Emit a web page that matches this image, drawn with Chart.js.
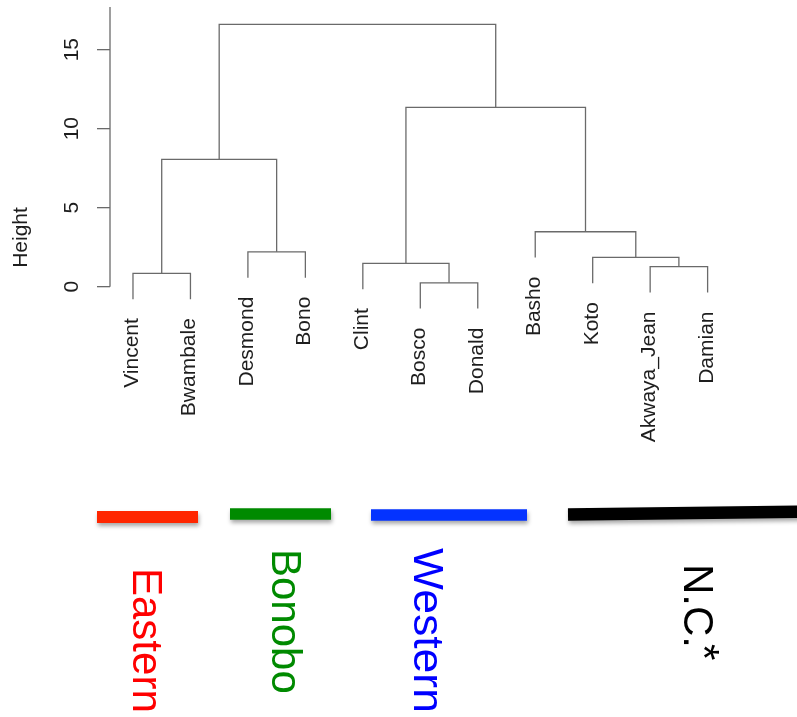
<!DOCTYPE html>
<html>
<head>
<meta charset="utf-8">
<script src="https://cdn.jsdelivr.net/npm/chart.js"></script>
<style>
  body { margin: 0; background: #fff; }
  canvas { display: block; }
</style>
</head>
<body>
<canvas id="charts" width="797" height="717"></canvas>
<script>
// Leaves in the order they appear under the tree
const leafNames = ['Vincent', 'Bwambale', 'Desmond', 'Bono', 'Clint', 'Bosco', 'Donald', 'Basho', 'Koto', 'Akwaya_Jean', 'Damian']

// hclust style merges: negative = leaf number, positive = earlier merge
const mergeLeft = [-6, -1, -10, -5, -9, -3, -8, 2, 4, 8]
const mergeRight = [-7, -2, -11, 1, 3, -4, 5, 6, 7, 9]
const mergeHeight = [0.25, 0.85, 1.27, 1.48, 1.86, 2.21, 3.48, 8.06, 11.35, 16.6]

const yTicks = [0, 5, 10, 15]

// groups marked under the tree
const groupNames = ['Eastern', 'Bonobo', 'Western', 'N.C.']
const groupTextColors = ['#ff0000', '#008a00', '#0000ff', '#000000']
const groupBarColors = ['#ff2600', '#008a00', '#0433ff', '#000000']

const FONT = '"Liberation Sans", Arial, Helvetica, sans-serif'
const LINE = '#6a6a6a'

//----------------------
// build the tree segments from the merges
const hang = 0.1 * (Math.max(...mergeHeight) - Math.min(...mergeHeight))
const nodeX = []
const leafTop = []

function xOf(ref) { return ref < 0 ? -ref : nodeX[ref - 1] }
function topOf(ref, h) { return ref < 0 ? h - hang : mergeHeight[ref - 1] }

const datasets = []
for (let i = 0; i < mergeHeight.length; i++) {
    const a = mergeLeft[i], b = mergeRight[i], h = mergeHeight[i]
    nodeX[i] = (xOf(a) + xOf(b)) / 2
    if (a < 0) leafTop[-a - 1] = h - hang
    if (b < 0) leafTop[-b - 1] = h - hang
    datasets.push({
        data: [
            {x: xOf(a), y: topOf(a, h)},
            {x: xOf(a), y: h},
            {x: xOf(b), y: h},
            {x: xOf(b), y: topOf(b, h)}
        ],
        showLine: true,
        borderColor: LINE,
        borderWidth: 1.3,
        pointRadius: 0,
        fill: false,
        tension: 0
    })
}

// axis line, leaf labels and the coloured group marks
const extras = {
    id: 'extras',
    afterDraw(chart) {
        const ctx = chart.ctx
        const xs = chart.scales.x, ys = chart.scales.y
        const area = chart.chartArea

        // y axis line
        ctx.save()
        ctx.strokeStyle = LINE
        ctx.lineWidth = 1.3
        ctx.beginPath()
        ctx.moveTo(area.left, ys.getPixelForValue(0))
        ctx.lineTo(area.left, area.top)
        ctx.stroke()
        ctx.restore()

        // leaf labels, reading upwards
        ctx.save()
        ctx.fillStyle = '#1e1e1e'
        ctx.font = '21px ' + FONT
        ctx.textAlign = 'right'
        ctx.textBaseline = 'alphabetic'
        leafNames.forEach((name, i) => {
            const px = xs.getPixelForValue(i + 1)
            const py = ys.getPixelForValue(leafTop[i])
            ctx.save()
            ctx.translate(px + 5, py + 19)
            ctx.rotate(-Math.PI / 2)
            ctx.fillText(name, 0, 0)
            ctx.restore()
        })
        ctx.restore()

        // group bars
        const bars = [
            [97, 517, 198, 517, 12],
            [230, 514, 331, 514, 11.7],
            [371, 515, 527, 515, 11.7],
            [568, 514.5, 800, 511.8, 12.5]
        ]
        bars.forEach((b, i) => {
            ctx.save()
            ctx.shadowColor = 'rgba(0,0,0,0.35)'
            ctx.shadowBlur = 4
            ctx.shadowOffsetX = 1
            ctx.shadowOffsetY = 3
            ctx.strokeStyle = groupBarColors[i]
            ctx.lineWidth = b[4]
            ctx.lineCap = 'butt'
            ctx.beginPath()
            ctx.moveTo(b[0], b[1])
            ctx.lineTo(b[2], b[3])
            ctx.stroke()
            ctx.restore()
        })

        // group names, reading downwards
        const spots = [[133, 568], [272, 549], [413.5, 548], [683.5, 564]]
        ctx.save()
        ctx.font = '42px ' + FONT
        ctx.textAlign = 'left'
        ctx.textBaseline = 'alphabetic'
        groupNames.forEach((name, i) => {
            ctx.save()
            ctx.fillStyle = groupTextColors[i]
            ctx.translate(spots[i][0], spots[i][1])
            ctx.rotate(Math.PI / 2)
            // Western is set a little wider in the original
            if (name === 'Western') ctx.scale(1.06, 1)
            ctx.fillText(name, 0, 0)
            ctx.restore()
        })
        // superscript star after N.C.
        ctx.fillStyle = '#000'
        ctx.translate(690, 644)
        ctx.rotate(Math.PI / 2)
        ctx.fillText('*', 0, 0)
        ctx.restore()
    }
}

// Create Chart.js dendrogram
var ctx = document.getElementById('charts').getContext('2d');

var chart = new Chart(ctx, {
    type: 'scatter',
    data: { datasets: datasets },
    options: {
        responsive: false,
        animation: false,
        layout: {
            padding: {left: 0, top: 7, right: 66.4, bottom: 249}
        },
        plugins: {
            legend: { display: false },
            tooltip: { enabled: false }
        },
        scales: {
            x: {
                type: 'linear',
                min: 0.6,
                max: 11.4,
                display: false
            },
            y: {
                type: 'linear',
                min: -11.47,
                max: 17.7,
                afterBuildTicks: s => { s.ticks = yTicks.map(v => ({value: v})) },
                afterFit: s => {
                    s.width = 110
                    s.paddingTop = 0
                    s.paddingBottom = 0
                },
                border: { display: false },
                grid: {
                    drawOnChartArea: false,
                    drawTicks: true,
                    tickLength: 13,
                    color: LINE,
                    lineWidth: 1.3
                },
                ticks: {
                    minRotation: 90,
                    maxRotation: 90,
                    crossAlign: 'center',
                    padding: 13,
                    color: '#1e1e1e',
                    font: { family: FONT, size: 21 }
                },
                title: {
                    display: true,
                    text: 'Height',
                    color: '#1e1e1e',
                    font: { family: FONT, size: 21 },
                    padding: { top: 9, bottom: 0 }
                }
            }
        }
    },
    plugins: [extras]
});
</script>
</body>
</html>
